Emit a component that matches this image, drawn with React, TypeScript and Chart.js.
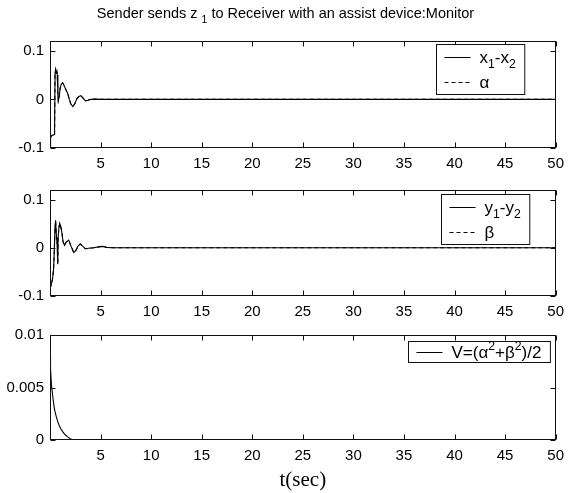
import React, { useEffect, useRef } from 'react';
import { Chart, registerables } from 'chart.js';

Chart.register(...registerables);

const SANS = '"Liberation Sans", Arial, Helvetica, sans-serif';
const SERIF = '"Liberation Serif", "Times New Roman", serif';

// shared time axis ticks (s)
const tTicks = [5, 10, 15, 20, 25, 30, 35, 40, 45, 50];
const yTicksErr = [-0.1, 0, 0.1];
const yTicksV = [0, 0.005, 0.01];

// x1 - x2 (and alpha, which lies on top of it)
const tX = [0, 0.03, 0.08, 0.2, 0.35, 0.45, 0.5, 0.55, 0.62, 0.68, 0.72, 0.78, 0.82, 0.9, 1.0, 1.1, 1.25, 1.4, 1.55, 1.75, 1.9, 2.05, 2.25, 2.45, 2.65, 2.85, 3.05, 3.25, 3.5, 3.75, 4.0, 4.5, 5.0, 50];
const x1MinusX2 = [-0.097, -0.085, -0.077, -0.074, -0.073, -0.072, 0.055, 0.062, 0.054, 0.058, 0.05, 0.01, -0.003, 0.004, 0.022, 0.031, 0.034, 0.028, 0.021, 0.012, 0.001, -0.009, -0.015, -0.009, 0.001, 0.006, 0.0075, 0.003, -0.003, -0.002, 0, 0.0005, 0, 0];
const alpha = [-0.097, -0.085, -0.077, -0.074, -0.073, -0.072, 0.055, 0.062, 0.054, 0.058, 0.05, 0.01, -0.003, 0.004, 0.022, 0.031, 0.034, 0.028, 0.021, 0.012, 0.001, -0.009, -0.015, -0.009, 0.001, 0.006, 0.0075, 0.003, -0.003, -0.002, 0, 0.0005, 0, 0];

// y1 - y2 (and beta)
const tY = [0, 0.1, 0.25, 0.35, 0.42, 0.5, 0.55, 0.62, 0.7, 0.75, 0.78, 0.8, 0.9, 0.97, 1.05, 1.15, 1.3, 1.45, 1.6, 1.85, 2.05, 2.35, 2.55, 2.75, 3.0, 3.25, 3.5, 3.8, 4.3, 4.8, 5.2, 5.6, 6.2, 50];
const y1MinusY2 = [-0.085, -0.078, -0.065, -0.045, -0.01, 0.045, 0.057, 0.03, 0.008, 0.02, -0.034, 0.02, 0.045, 0.05, 0.046, 0.035, 0.012, 0.005, 0.012, 0.016, 0.005, -0.01, -0.006, 0.003, 0.008, 0.003, -0.002, -0.001, 0, 0.002, 0.003, 0.001, 0, 0];
const beta = [-0.085, -0.078, -0.065, -0.045, -0.01, 0.045, 0.057, 0.03, 0.008, 0.02, -0.034, 0.02, 0.045, 0.05, 0.046, 0.035, 0.012, 0.005, 0.012, 0.016, 0.005, -0.01, -0.006, 0.003, 0.008, 0.003, -0.002, -0.001, 0, 0.002, 0.003, 0.001, 0, 0];

// Lyapunov function V
const tV = [0, 0.05, 0.15, 0.3, 0.45, 0.6, 0.75, 0.9, 1.05, 1.25, 1.5, 1.75, 2.0, 2.25, 2.5, 50];
const vValues = [0.008, 0.0068, 0.0052, 0.0039, 0.0029, 0.0023, 0.0018, 0.0014, 0.0011, 0.0008, 0.0005, 0.0003, 0.00012, 0.00003, 0, 0];

type Series = { label: string; t: number[]; v: number[]; dash?: number[] };
type Seg = { s: string; k: number };

// "_c" -> subscript c, "^c" -> superscript c
function parseRich(src: string): Seg[] {
  const out: Seg[] = [];
  let buf = '';
  for (let i = 0; i < src.length; i++) {
    const c = src[i];
    if ((c === '_' || c === '^') && i + 1 < src.length) {
      if (buf) { out.push({ s: buf, k: 0 }); buf = ''; }
      out.push({ s: src[i + 1], k: c === '^' ? 1 : -1 });
      i++;
    } else buf += c;
  }
  if (buf) out.push({ s: buf, k: 0 });
  return out;
}

function richWidth(ctx: CanvasRenderingContext2D, src: string, size: number) {
  let w = 0;
  for (const seg of parseRich(src)) {
    ctx.font = `${seg.k ? size * 0.72 : size}px ${SANS}`;
    w += ctx.measureText(seg.s).width;
  }
  return w;
}

function drawRich(ctx: CanvasRenderingContext2D, src: string, x: number, y: number, size: number) {
  ctx.textAlign = 'left';
  ctx.textBaseline = 'alphabetic';
  for (const seg of parseRich(src)) {
    ctx.font = `${seg.k ? size * 0.72 : size}px ${SANS}`;
    const dy = seg.k === -1 ? size * 0.34 : seg.k === 1 ? -size * 0.42 : 0;
    ctx.fillText(seg.s, x, y + dy);
    x += ctx.measureText(seg.s).width;
  }
}

type PanelProps = {
  top: number;
  height: number;
  padTop: number;
  axisH: number;
  series: Series[];
  yMin: number;
  yMax: number;
  yTicks: number[];
  legendRight: number;
  legendTop: number;
  title?: string;
  xTitle?: string;
};

function Panel(p: PanelProps) {
  const ref = useRef<HTMLCanvasElement>(null);

  useEffect(() => {
    const decor = {
      id: 'decor',
      afterDatasetsDraw(chart: any) {
        const { ctx, chartArea: a } = chart;
        const xs = chart.scales.x;
        const ys = chart.scales.y;
        ctx.save();
        // axes box with inward tick marks
        ctx.strokeStyle = '#111';
        ctx.lineWidth = 1;
        ctx.setLineDash([]);
        const L = Math.round(a.left) + 0.5;
        const R = Math.round(a.right) - 0.5;
        const T = Math.round(a.top) + 0.5;
        const B = Math.round(a.bottom) - 0.5;
        ctx.strokeRect(L, T, R - L, B - T);
        ctx.beginPath();
        for (const tk of xs.ticks) {
          const px = Math.round(xs.getPixelForValue(tk.value)) + 0.5;
          ctx.moveTo(px, B); ctx.lineTo(px, B - 5);
          ctx.moveTo(px, T); ctx.lineTo(px, T + 5);
        }
        for (const tk of ys.ticks) {
          const py = Math.round(ys.getPixelForValue(tk.value)) + 0.5;
          ctx.moveTo(L, py); ctx.lineTo(L + 5, py);
          ctx.moveTo(R, py); ctx.lineTo(R - 5, py);
        }
        ctx.stroke();

        // legend box
        const ds = chart.data.datasets;
        const n = ds.length;
        const fs = 17;
        let tw = 0;
        for (const d of ds) tw = Math.max(tw, richWidth(ctx, d.label, fs));
        const bw = 8 + 26 + 9 + tw + 9;
        const bh = 29 * n - 8;
        const bx = Math.round(a.right - p.legendRight - bw) + 0.5;
        const by = Math.round(a.top + p.legendTop) + 0.5;
        ctx.fillStyle = '#fff';
        ctx.fillRect(bx, by, bw, bh);
        ctx.strokeStyle = '#111';
        ctx.strokeRect(bx, by, bw, bh);
        ds.forEach((d: any, i: number) => {
          const cy = Math.round(by + (bh * (i + 0.5)) / n) + 0.5;
          ctx.beginPath();
          ctx.setLineDash(d.borderDash || []);
          ctx.strokeStyle = '#000';
          ctx.moveTo(bx + 8, cy);
          ctx.lineTo(bx + 34, cy);
          ctx.stroke();
          ctx.setLineDash([]);
          ctx.fillStyle = '#000';
          drawRich(ctx, d.label, bx + 43, cy + 5, fs);
        });

        // figure title
        if (p.title) {
          const size = 14.5;
          const w = richWidth(ctx, p.title, size);
          ctx.fillStyle = '#000';
          drawRich(ctx, p.title, chart.width / 2 - w / 2, 18, size);
        }
        ctx.restore();
      },
    };

    const chart = new Chart(ref.current!, {
      type: 'line',
      data: {
        datasets: p.series.map((s) => ({
          label: s.label,
          data: s.t.map((t, i) => ({ x: t, y: s.v[i] })),
          borderColor: '#000',
          borderWidth: 1.1,
          borderDash: s.dash || [],
          pointRadius: 0,
          tension: 0,
          fill: false,
        })),
      },
      options: {
        responsive: false,
        animation: false,
        layout: { padding: { top: p.padTop, right: 12, left: 0, bottom: 0 } },
        plugins: {
          legend: { display: false },
          tooltip: { enabled: false },
          title: { display: false },
        },
        scales: {
          x: {
            type: 'linear',
            min: 0,
            max: 50,
            grid: { display: false, drawTicks: false, tickLength: 0 },
            border: { display: false },
            afterBuildTicks: (s: any) => { s.ticks = tTicks.map((v) => ({ value: v })); },
            afterFit: (s: any) => { s.height = p.axisH; },
            ticks: {
              color: '#000',
              font: { family: SANS, size: 15 },
              padding: 7,
              maxRotation: 0,
              autoSkip: false,
              callback: (v: any) => String(v),
            },
            title: p.xTitle
              ? {
                  display: true,
                  text: p.xTitle,
                  color: '#000',
                  font: { family: SERIF, size: 21 },
                  padding: { top: 0, bottom: 0 },
                }
              : { display: false },
          },
          y: {
            type: 'linear',
            min: p.yMin,
            max: p.yMax,
            grid: { display: false, drawTicks: false, tickLength: 0 },
            border: { display: false },
            afterBuildTicks: (s: any) => { s.ticks = p.yTicks.map((v) => ({ value: v })); },
            afterFit: (s: any) => { s.width = 50; },
            ticks: {
              color: '#000',
              font: { family: SANS, size: 15 },
              padding: 6,
              callback: (v: any) => String(v),
            },
          },
        },
      },
      plugins: [decor],
    } as any);
    return () => chart.destroy();
  }, []);

  return (
    <canvas
      ref={ref}
      width={571}
      height={p.height}
      style={{ position: 'absolute', left: 0, top: p.top, display: 'block' }}
    />
  );
}

export default function App() {
  return (
    <div style={{ position: 'absolute', left: 0, top: 0, width: 571, height: 493, background: '#fff' }}>
      <Panel
        top={0}
        height={175}
        padTop={41}
        axisH={27}
        yMin={-0.1}
        yMax={0.12}
        yTicks={yTicksErr}
        legendRight={31}
        legendTop={3}
        title="Sender sends z _1 to Receiver with an assist device:Monitor"
        series={[
          { label: 'x_1-x_2', t: tX, v: x1MinusX2 },
          { label: 'α', t: tX, v: alpha, dash: [4, 3] },
        ]}
      />
      <Panel
        top={175}
        height={145}
        padTop={12}
        axisH={24}
        yMin={-0.1}
        yMax={0.12}
        yTicks={yTicksErr}
        legendRight={26}
        legendTop={4}
        series={[
          { label: 'y_1-y_2', t: tY, v: y1MinusY2 },
          { label: 'β', t: tY, v: beta, dash: [4, 3] },
        ]}
      />
      <Panel
        top={320}
        height={173}
        padTop={12}
        axisH={53}
        yMin={0}
        yMax={0.01}
        yTicks={yTicksV}
        legendRight={6}
        legendTop={6}
        xTitle="t(sec)"
        series={[{ label: 'V=(α^2+β^2)/2', t: tV, v: vValues }]}
      />
    </div>
  );
}
